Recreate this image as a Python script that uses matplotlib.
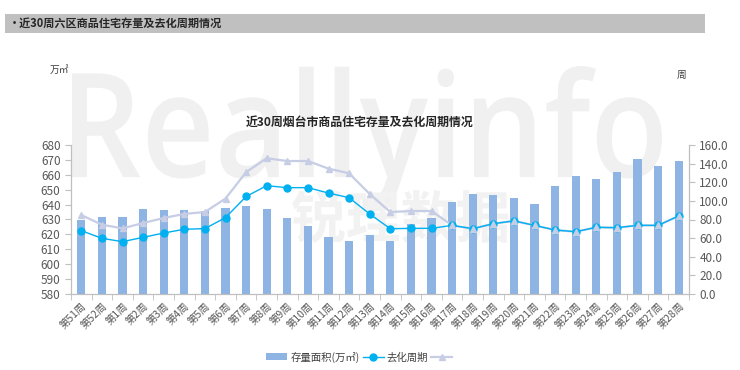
import numpy as np
import matplotlib
matplotlib.use('Agg')
import matplotlib.pyplot as plt
from matplotlib.patches import Rectangle, PathPatch
from matplotlib.textpath import TextPath
from matplotlib.font_manager import FontProperties
from matplotlib.lines import Line2D
from matplotlib.transforms import Affine2D

plt.rcParams['font.family'] = ['Noto Sans CJK SC', 'DejaVu Sans']

weeks = ['第51周', '第52周', '第1周', '第2周', '第3周', '第4周', '第5周', '第6周', '第7周', '第8周',
         '第9周', '第10周', '第11周', '第12周', '第13周', '第14周', '第15周', '第16周', '第17周', '第18周',
         '第19周', '第20周', '第21周', '第22周', '第23周', '第24周', '第25周', '第26周', '第27周', '第28周']

# stock area (万㎡), left axis
stock = [629.7, 631.5, 631.5, 637.3, 636.4, 636.2, 635.7, 637.7, 639.3, 637.3,
         631.0, 625.6, 618.0, 615.6, 619.6, 615.6, 626.8, 631.0, 641.5, 647.1,
         646.7, 644.7, 640.4, 652.5, 659.2, 657.2, 661.7, 670.4, 666.1, 669.3]

# 去化周期 (weeks), right axis
cycle = [68.0, 59.8, 56.2, 60.8, 65.5, 69.5, 70.2, 82.0, 104.7, 116.3,
         114.2, 114.2, 108.4, 103.4, 85.9, 70.1, 70.5, 70.5, 73.7, 70.1,
         75.5, 78.5, 73.7, 68.7, 66.9, 71.6, 71.2, 73.7, 73.7, 83.8]

# unnamed second series (triangles), right axis
cycle2 = [84.8, 74.4, 70.5, 76.2, 81.6, 86.0, 88.0, 102.5, 130.8, 145.8,
          142.8, 142.8, 134.6, 129.6, 107.4, 88.0, 89.1, 89.1, 73.7, 70.1,
          75.5, 78.5, 73.7, 68.7, 66.9, 71.6, 71.2, 73.7, 73.7, 83.8]

W, H = 740, 370
fig = plt.figure(figsize=(7.4, 3.7), dpi=100)

# watermark layer in pixel coordinates
bg = fig.add_axes([0, 0, 1, 1])
bg.set_zorder(-1)
bg.set_xlim(0, W)
bg.set_ylim(H, 0)
bg.axis('off')


def fit_text(text, prop, x0, x1, y0, y1, color):
    tp = TextPath((0, 0), text, prop=prop, size=100)
    ext = tp.get_extents()
    sx = (x1 - x0) / ext.width
    sy = (y1 - y0) / ext.height
    tr = Affine2D().translate(-ext.x0, -ext.y1).scale(sx, -sy).translate(x0, y0)
    bg.add_patch(PathPatch(tr.transform_path(tp), color=color, lw=0))


fit_text('Reallyinfo', FontProperties(family='Open Sans', weight='semibold'), 72, 662, 66, 212, '#f0f0f0')
fit_text('锐理数据', FontProperties(family='Noto Sans CJK SC', weight='bold'), 292, 508, 190, 243, '#f2f2f2')

# header band
fig.patches.append(Rectangle((5 / W, 1 - 33 / H), 700 / W, 19 / H, transform=fig.transFigure,
                             facecolor='#c0c0c0', edgecolor='none', zorder=1))
fig.text(9 / W, 1 - 23.5 / H, '•近30周六区商品住宅存量及去化周期情况', fontsize=8, fontweight='bold',
         color='#262626', va='center', ha='left', zorder=2)

ax = fig.add_axes([71 / W, 1 - 294 / H, 618 / W, 149 / H])
ax.patch.set_alpha(0)
ax2 = ax.twinx()
ax2.patch.set_alpha(0)
ax.set_zorder(2)
ax2.set_zorder(3)

x = np.arange(len(weeks))
bars = ax.bar(x, stock, 0.4, color='#8db4e2', zorder=2)
ax.set_ylim(580, 680)
ax.set_yticks(np.arange(580, 681, 10))
ax.set_xlim(-0.5, len(weeks) - 0.5)
ax.set_xticks(x)
ax.set_xticklabels(weeks, rotation=45, ha='right', va='top', rotation_mode='anchor', fontsize=7.5,
                   color='#595959')
ax.set_xticks(np.arange(-0.5, len(weeks)), minor=True)
ax.tick_params(axis='x', which='major', length=0, pad=5)
ax.tick_params(axis='x', which='minor', length=4, color='#bfbfbf')
ax.tick_params(axis='y', labelsize=8.5, labelcolor='#595959', color='#bfbfbf', length=4)

l2, = ax2.plot(x, cycle2, color='#c6cde5', lw=1.6, marker='^', ms=5, zorder=3)
l1, = ax2.plot(x, cycle, color='#00b0f0', lw=1, marker='o', ms=5, zorder=4)
ax2.plot(x[18:], cycle2[18:], ls='none', marker='^', ms=4, color='#c6cde5', zorder=5)
ax2.set_ylim(0, 160)
ax2.set_yticks(np.arange(0, 161, 20))
ax2.set_yticklabels([f'{v:.1f}' for v in np.arange(0, 161, 20)])
ax2.tick_params(axis='y', labelsize=8.5, labelcolor='#595959', color='#bfbfbf', length=4)

for a in (ax, ax2):
    a.spines['top'].set_visible(False)
    for s in ('left', 'right', 'bottom'):
        a.spines[s].set_color('#bfbfbf')

fig.text(360 / W, 1 - 122 / H, '近30周烟台市商品住宅存量及去化周期情况', fontsize=8.6, fontweight='bold',
         color='#262626', ha='center', va='center', zorder=3)
fig.text(50 / W, 1 - 70 / H, '万㎡', fontsize=7, color='#404040', ha='left', va='center')
fig.text(682 / W, 1 - 75 / H, '周', fontsize=7, color='#404040', ha='center', va='center')

handles = [bars, Line2D([], [], color='#00b0f0', lw=1, marker='o', ms=5),
           Line2D([], [], color='#c6cde5', lw=1.6, marker='^', ms=4)]
fig.legend(handles, ['存量面积(万㎡)', '去化周期', ' '], loc='center', bbox_to_anchor=(362 / W, 1 - 357 / H),
           ncol=3, frameon=False, fontsize=7.5, handlelength=2.0, columnspacing=0.3, handletextpad=0.3,
           labelcolor='#404040')

fig.savefig('out.png', dpi=100)
